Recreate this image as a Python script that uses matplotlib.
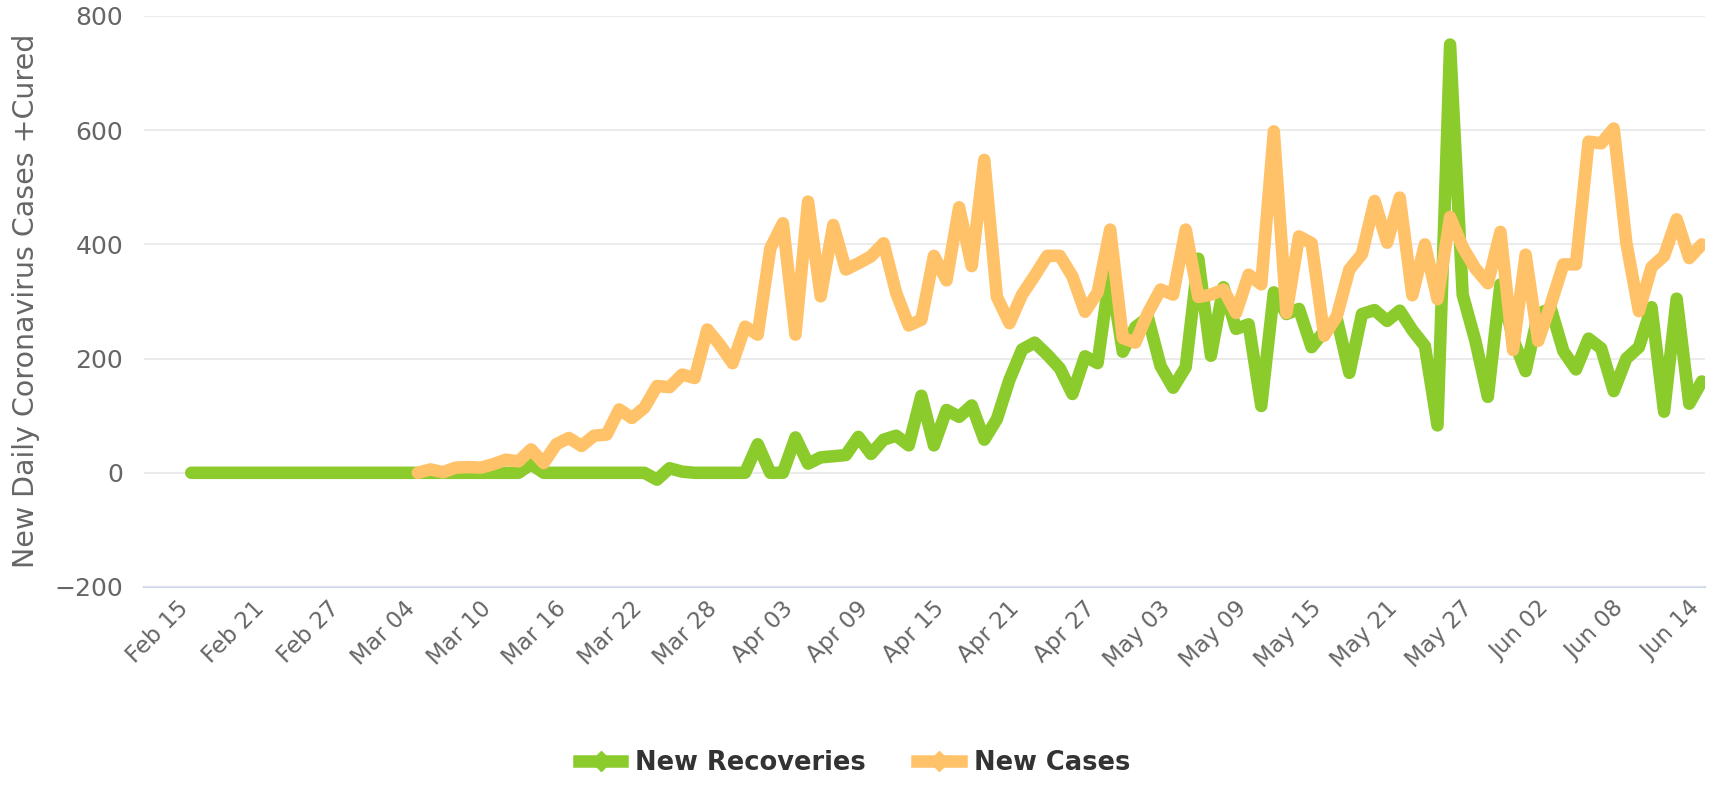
import matplotlib
matplotlib.use("Agg")
import matplotlib.pyplot as plt
from matplotlib.lines import Line2D
from matplotlib.transforms import ScaledTranslation
import pandas as pd

# daily values, Feb 15 .. Jun 14 2020
dates = pd.date_range("2020-02-15", "2020-06-14", freq="D")

recoveries = [
    0, 0, 0, 0, 0, 0, 0, 0, 0, 0,
    0, 0, 0, 0, 0, 0, 0, 0, 0, 0,
    0, 0, 0, 0, 0, 0, 0, 15, 0, 0,
    0, 0, 0, 0, 0, 0, 0, -12, 8, 2,
    0, 0, 0, 0, 0, 50, 0, 0, 62, 16,
    27, 29, 31, 63, 33, 58, 65, 48, 135, 48,
    110, 98, 118, 58, 94, 163, 216, 228, 207, 183,
    138, 204, 192, 352, 212, 255, 272, 187, 149, 185,
    375, 205, 325, 252, 260, 117, 316, 278, 287, 220,
    248, 270, 175, 278, 285, 266, 284, 250, 222, 83,
    750, 312, 232, 133, 330, 235, 178, 278, 288, 213,
    181, 235, 218, 143, 200, 220, 290, 107, 305, 121,
    160,
]

# new cases start on Mar 04
cases_dates = pd.date_range("2020-03-04", "2020-06-14", freq="D")
cases = [
    0, 6,
    1, 9, 10, 9, 15, 23, 20, 41, 17, 50,
    61, 47, 65, 67, 111, 96, 114, 152, 150, 172,
    166, 251, 224, 192, 256, 242, 393, 437, 242, 475,
    309, 434, 356, 367, 379, 402, 315, 258, 268, 380,
    337, 465, 362, 548, 308, 262, 312, 345, 380, 380,
    344, 282, 316, 426, 236, 228, 280, 321, 312, 426,
    308, 312, 321, 280, 347, 330, 598, 280, 414, 402,
    240, 274, 356, 383, 476, 403, 482, 311, 400, 304,
    448, 395, 358, 332, 422, 215, 382, 231, 295, 365,
    365, 580, 577, 603, 403, 283, 360, 380, 444, 376,
    400,
]

series_names = ["New Recoveries", "New Cases"]
green = "#8ccb2c"
orange = "#ffc268"
tick_color = "#666666"

fig = plt.figure(figsize=(17.09, 7.85), dpi=100)
ax = fig.add_axes([144 / 1709, 1 - 587 / 785, 1561 / 1709, 571 / 785])

ax.plot(dates, recoveries, color=green, lw=9, solid_capstyle="round",
        solid_joinstyle="round", zorder=3)
ax.plot(cases_dates, cases, color=orange, lw=9, solid_capstyle="round",
        solid_joinstyle="round", zorder=4)

ax.set_ylim(-200, 800)
ax.set_yticks([-200, 0, 200, 400, 600, 800])
ax.set_xlim(dates[0] - pd.Timedelta(days=3.75), dates[-1] + pd.Timedelta(days=0.25))

ax.yaxis.grid(True, color="#e6e6e6", lw=1.1, zorder=0)
ax.xaxis.grid(False)
for side in ["left", "right", "top"]:
    ax.spines[side].set_visible(False)
ax.spines["bottom"].set_color("#ccd6eb")
ax.spines["bottom"].set_linewidth(1.5)
ax.spines["bottom"].set_zorder(1)

ticks = dates[::6]
ax.set_xticks(ticks)
ax.set_xticklabels([d.strftime("%b %d") for d in ticks], rotation=45,
                   ha="right", va="center", rotation_mode="anchor")
ax.tick_params(axis="x", length=0, pad=13, labelsize=16.5, labelcolor=tick_color)
ax.tick_params(axis="y", length=0, pad=15, labelsize=18, labelcolor=tick_color)
offset = ScaledTranslation(-6 / 100, 0, fig.dpi_scale_trans)
for lbl in ax.get_xticklabels():
    lbl.set_transform(lbl.get_transform() + offset)

fig.text(26 / 1709, 1 - 301 / 785, "New Daily Coronavirus Cases +Cured",
         rotation=90, ha="center", va="center", fontsize=20.5, color=tick_color)

handles = [
    Line2D([], [], color=green, lw=9, marker="D", markersize=10),
    Line2D([], [], color=orange, lw=9, marker="D", markersize=10),
]
fig.legend(handles, series_names, loc="center", bbox_to_anchor=(0.5, 1 - 763 / 785),
           ncol=2, frameon=False, prop={"weight": "bold", "size": 18.5},
           labelcolor="#333333", handlelength=1.7, handletextpad=0.5,
           columnspacing=2.0)

fig.savefig("out.png", dpi=100)
